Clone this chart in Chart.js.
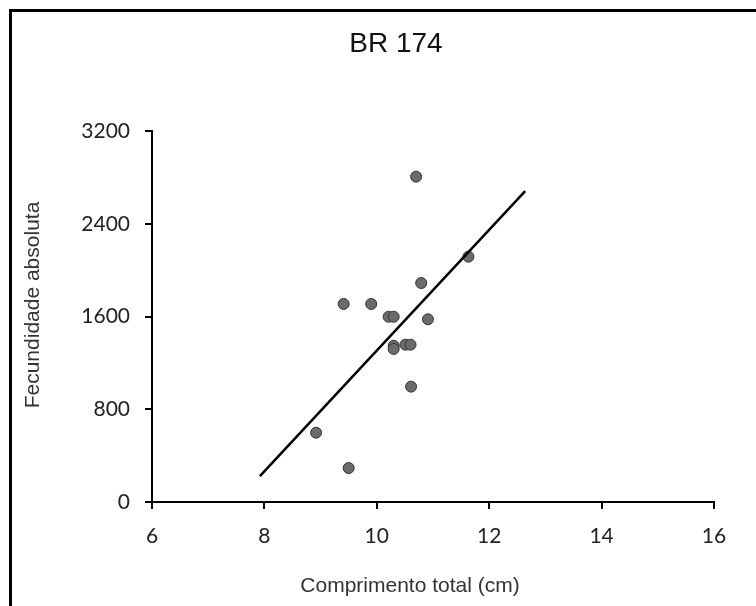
<!doctype html>
<meta charset="utf-8">
<title>BR 174</title>
<style>
    html, body {
        margin: 0;
        padding: 0;
        overflow: hidden;
        background: #fff;
    }
    .frame {
        position: absolute;
        left: 9px;
        top: 9px;
        width: 800px;
        height: 700px;
        border-left: 3px solid #000;
        border-top: 3px solid #000;
    }
    .wrap {
        position: absolute;
        left: 0;
        top: 0;
        width: 756px;
        height: 606px;
    }
</style>
<body>
    <div class="frame"></div>
    <div class="wrap"><canvas id="chart" width="756" height="606"></canvas></div>
    <script src="https://cdn.jsdelivr.net/npm/chart.js@4/dist/chart.umd.min.js"></script>
    <script>
        // comprimento total (cm) vs fecundidade absoluta
        const lengths = [8.92, 9.50, 9.41, 9.90, 10.21, 10.30, 10.30, 10.30, 10.51, 10.60, 10.61, 10.70, 10.79, 10.91, 11.63];
        const fecundity = [598, 293, 1708, 1708, 1598, 1598, 1348, 1320, 1357, 1357, 995, 2806, 1889, 1576, 2116];

        // linear trend line, end points
        const trendX = [7.92, 12.64];
        const trendY = [224, 2682];

        const xTicks = [6, 8, 10, 12, 14, 16];
        const yTicks = [0, 800, 1600, 2400, 3200];

        const chartTitle = "BR 174";
        const xTitle = "Comprimento total (cm)";
        const yTitle = "Fecundidade absoluta";

        const tickFont = { family: "Lato, 'Open Sans', sans-serif", size: 21 };
        const sans = "'Liberation Sans', Arial, sans-serif";

        const pts = lengths.map((x, i) => ({ x: x, y: fecundity[i] }));
        const trend = trendX.map((x, i) => ({ x: x, y: trendY[i] }));

        const axisStyle = {
            grid: {
                drawOnChartArea: false,
                drawTicks: true,
                tickLength: 7,
                color: "#000",
                lineWidth: 2,
            },
            border: { color: "#000", width: 2 },
        };

        // the titles sit off-centre in the original (it was cropped), so place them by hand
        const titles = {
            id: "titles",
            afterDraw(chart) {
                const ctx = chart.ctx;
                ctx.save();
                ctx.textAlign = "center";
                ctx.textBaseline = "middle";
                ctx.fillStyle = "#111";
                ctx.font = "28px " + sans;
                ctx.fillText(chartTitle, 396, 44);
                ctx.fillStyle = "#333";
                ctx.font = "21px " + sans;
                ctx.fillText(xTitle, 410, 586);
                ctx.translate(33, 305);
                ctx.rotate(-Math.PI / 2);
                ctx.fillText(yTitle, 0, 0);
                ctx.restore();
            },
        };

        new Chart(document.getElementById("chart"), {
            type: "scatter",
            data: {
                datasets: [{
                    label: "pontos",
                    data: pts,
                    backgroundColor: "#6b6b6b",
                    borderColor: "#333",
                    borderWidth: 1,
                    pointRadius: 5.5,
                    order: 1,
                }, {
                    type: "line",
                    label: "tendência",
                    data: trend,
                    borderColor: "#000",
                    borderWidth: 2.5,
                    pointRadius: 0,
                    fill: false,
                    order: 0,
                }],
            },
            plugins: [titles],
            options: {
                responsive: false,
                animation: false,
                layout: {
                    padding: { left: 0, right: 42, top: 131, bottom: 0 },
                },
                plugins: {
                    legend: { display: false },
                    tooltip: { enabled: false },
                    title: { display: false },
                },
                scales: {
                    x: {
                        type: "linear",
                        min: 6,
                        max: 16,
                        afterBuildTicks: (s) => { s.ticks = xTicks.map(v => ({ value: v })); },
                        afterFit: (s) => { s.height = 104; s.paddingLeft = 0; s.paddingRight = 0; },
                        ticks: { color: "#222", font: tickFont, padding: 15, callback: (v) => String(v) },
                        ...axisStyle,
                    },
                    y: {
                        type: "linear",
                        min: 0,
                        max: 3200,
                        afterBuildTicks: (s) => { s.ticks = yTicks.map(v => ({ value: v })); },
                        afterFit: (s) => { s.width = 152; s.paddingTop = 0; s.paddingBottom = 0; },
                        ticks: { color: "#222", font: tickFont, padding: 15, callback: (v) => String(v) },
                        ...axisStyle,
                    },
                },
            },
        });
    </script>
</body>
